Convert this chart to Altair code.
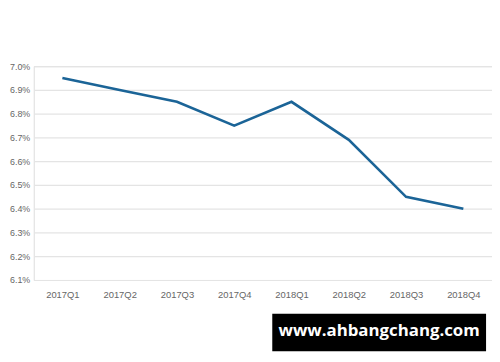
import altair as alt
import pandas as pd

quarters = ["2017Q1", "2017Q2", "2017Q3", "2017Q4", "2018Q1", "2018Q2", "2018Q3", "2018Q4"]
rates = [6.95, 6.90, 6.85, 6.75, 6.85, 6.69, 6.45, 6.40]
y_ticks = [6.1, 6.2, 6.3, 6.4, 6.5, 6.6, 6.7, 6.8, 6.9, 7.0]
watermark = "www.ahbangchang.com"

df = pd.DataFrame({"quarter": quarters, "rate": rates})

line = alt.Chart(df).mark_line(color="#1b6497", strokeWidth=2.6).encode(
    x=alt.X("quarter:O", sort=quarters, title=None,
            scale=alt.Scale(type="point", padding=0.5),
            axis=alt.Axis(labelAngle=0, domain=False, ticks=False, grid=False,
                          labelPadding=10, labelFontSize=9.5, labelColor="#666666",
                          labelFont="Liberation Sans")),
    y=alt.Y("rate:Q", title=None,
            scale=alt.Scale(domain=[6.1, 7.0], nice=False, zero=False),
            axis=alt.Axis(values=y_ticks, domain=False, ticks=False, grid=True,
                          gridColor="#e4e4e4", gridWidth=1.2,
                          labelExpr="format(datum.value, '.1f') + '%'",
                          labelPadding=4, labelFontSize=9, labelColor="#666666",
                          labelFont="Liberation Sans")),
)

wm_df = pd.DataFrame({"label": [watermark]})
box = alt.Chart(wm_df).mark_rect(color="#000000").encode(
    x=alt.value(241), x2=alt.value(457), y=alt.value(250), y2=alt.value(288)
)
text = alt.Chart(wm_df).mark_text(color="#ffffff", fontSize=17, fontWeight="bold",
                                  font="Open Sans", align="center", baseline="middle").encode(
    x=alt.value(349), y=alt.value(268), text="label:N"
)

chart = alt.layer(line, box, text).properties(
    width=463, height=216,
    autosize=alt.AutoSizeParams(type="none"),
    padding={"left": 26, "top": 57, "right": 0, "bottom": 73},
).configure_view(stroke=None).configure(background="#ffffff")

chart.save("out.html", embed_options={"renderer": "svg", "actions": False})
